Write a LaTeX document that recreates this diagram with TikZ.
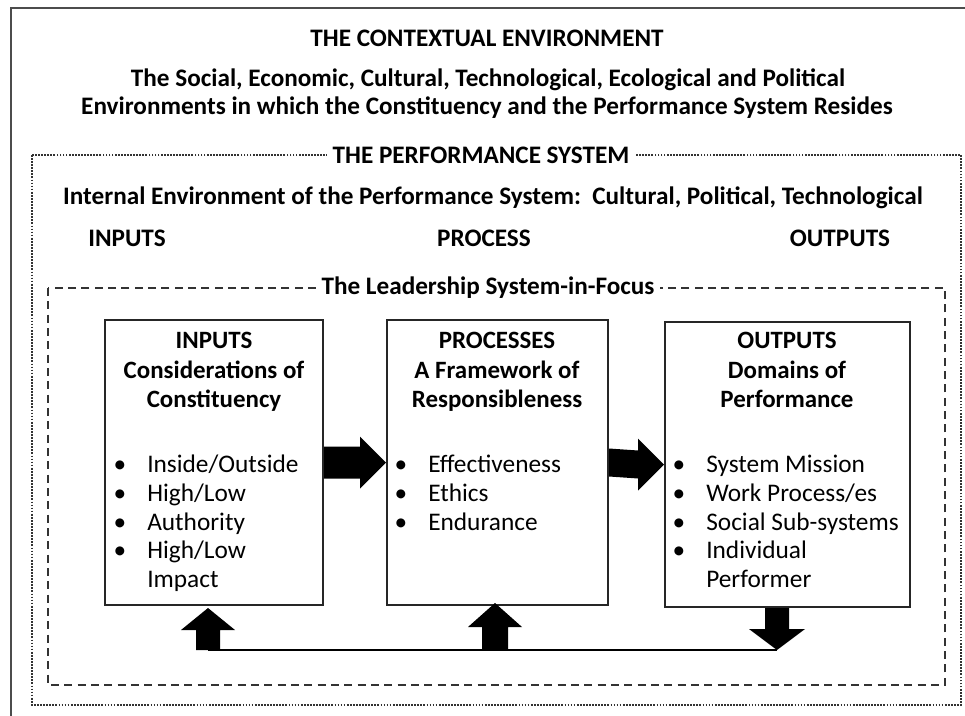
\documentclass[tikz,border=0pt]{standalone}
\usepackage{fontspec}
\setmainfont{Carlito}
\usetikzlibrary{calc}
\begin{document}
\begin{tikzpicture}[x=0.75pt,y=-0.75pt,
  toptext/.style={font=\fontsize{18.9}{22}\selectfont\bfseries, inner sep=0pt},
  framelabel/.style={font=\fontsize{18.9}{22}\selectfont\bfseries, fill=white, inner sep=4pt},
  boxhead/.style={font=\fontsize{18.7}{22}\selectfont\bfseries, inner sep=0pt, anchor=base},
  boxitem/.style={font=\fontsize{19}{22}\selectfont, inner sep=0pt, anchor=base west},
  bul/.style={font=\fontsize{19}{22}\selectfont, inner sep=0pt, anchor=base},
  sysbox/.style={draw=black!85, line width=1.5pt, fill=white},
  blockarrow/.style={fill=black},
]
\useasboundingbox (0,0) rectangle (965,715);
% outer contextual environment frame
\draw[draw=black!70, line width=1.6pt] (11,730) -- (11,8) -- (980,8) -- (980,730);
\node[toptext] (t1) at (487,38) {THE CONTEXTUAL ENVIRONMENT};
\node[toptext] (t2) at (488,80) {The Social, Economic, Cultural, Technological, Ecological and Political};
\node[toptext] (t3) at (487,108) {Environments in which the Constituency and the Performance System Resides};

% performance system frame
\draw[densely dotted, line width=1.3pt, black!80] (32,155) rectangle (961,705);
\node[framelabel] (ps) at (481,155) {THE PERFORMANCE SYSTEM};
\node[toptext] (ie) at (493,198) {Internal Environment of the Performance System:\ \ Cultural, Political, Technological};
\node[toptext] (li) at (127,238) {INPUTS};
\node[toptext] (lp) at (484,238) {PROCESS};
\node[toptext] (lo) at (840,238) {OUTPUTS};

% leadership system frame
\draw[dash pattern=on 6pt off 4pt, line width=1.3pt, black!80] (48,288) rectangle (945,685);
\node[framelabel] (ls) at (488,288) {The Leadership System-in-Focus};

% three boxes
\node[sysbox, minimum width=218*0.75pt, minimum height=285*0.75pt, inner sep=0pt] (inB) at (214,462.5) {};
\node[sysbox, minimum width=221*0.75pt, minimum height=285*0.75pt, inner sep=0pt] (prB) at (497.5,462.5) {};
\node[sysbox, minimum width=245*0.75pt, minimum height=285*0.75pt, inner sep=0pt] (outB) at (787.5,464.5) {};

% inputs box text
\node[boxhead] (ih1) at (214,348) {INPUTS};
\node[boxhead] (ih2) at (214,378) {Considerations of};
\node[boxhead] (ih3) at (214,407) {Constituency};
\node[bul] (ib1) at (120,472) {•};
\node[boxitem] (ii1) at (147,472) {Inside/Outside};
\node[bul] (ib2) at (120,501) {•};
\node[boxitem] (ii2) at (147,501) {High/Low};
\node[bul] (ib3) at (120,530) {•};
\node[boxitem] (ii3) at (147,530) {Authority};
\node[bul] (ib4) at (120,558) {•};
\node[boxitem] (ii4) at (147,558) {High/Low};
\node[boxitem] (ii5) at (147,587) {Impact};

% processes box text
\node[boxhead] (ph1) at (497,348) {PROCESSES};
\node[boxhead] (ph2) at (497,378) {A Framework of};
\node[boxhead] (ph3) at (497,407) {Responsibleness};
\node[bul] (pb1) at (401,472) {•};
\node[boxitem] (pi1) at (428,472) {Effectiveness};
\node[bul] (pb2) at (401,501) {•};
\node[boxitem] (pi2) at (428,501) {Ethics};
\node[bul] (pb3) at (401,530) {•};
\node[boxitem] (pi3) at (428,530) {Endurance};

% outputs box text
\node[boxhead] (oh1) at (787,348) {OUTPUTS};
\node[boxhead] (oh2) at (787,378) {Domains of};
\node[boxhead] (oh3) at (787,407) {Performance};
\node[bul] (ob1) at (679,472) {•};
\node[boxitem] (oi1) at (706,472) {System Mission};
\node[bul] (ob2) at (679,501) {•};
\node[boxitem] (oi2) at (706,501) {Work Process/es};
\node[bul] (ob3) at (679,530) {•};
\node[boxitem] (oi3) at (706,530) {Social Sub-systems};
\node[bul] (ob4) at (679,558) {•};
\node[boxitem] (oi4) at (706,558) {Individual};
\node[boxitem] (oi5) at (706,587) {Performer};

% block arrows between boxes
\fill[blockarrow] ($(inB.east)+(0,-16)$) -- ($(prB.west)+(-26,-16)$) -- ($(prB.west)+(-26,-26)$)
  -- (prB.west) -- ($(prB.west)+(-26,26)$) -- ($(prB.west)+(-26,16)$) -- ($(inB.east)+(0,16)$) -- cycle;
\fill[blockarrow] ($(prB.east)+(0,-14)$) -- ($(outB.west)+(-26,-14)$) -- ($(outB.west)+(-26,-26)$)
  -- ($(outB.west)+(0,0)$) -- ($(outB.west)+(-26,26)$) -- ($(outB.west)+(-26,14)$) -- ($(prB.east)+(0,14)$) -- cycle;

% feedback loop
\coordinate (f1) at (208,650);
\coordinate (f2) at (495,650);
\coordinate (f3) at (777,650);
\draw[line width=1.6pt] (f1) -- (f3);
% up arrow to inputs
\fill[blockarrow] ($(f1)+(-12,0)$) -- ($(f1)+(-12,-20)$) -- ($(f1)+(-27,-20)$) -- ($(inB.south -| f1)+(0,2)$)
  -- ($(f1)+(27,-20)$) -- ($(f1)+(12,-20)$) -- ($(f1)+(12,0)$) -- cycle;
% up arrow to processes
\fill[blockarrow] ($(f2)+(-13,0)$) -- ($(f2)+(-13,-23)$) -- ($(f2)+(-27,-23)$) -- ($(prB.south -| f2)+(0,-3)$)
  -- ($(f2)+(27,-23)$) -- ($(f2)+(13,-23)$) -- ($(f2)+(13,0)$) -- cycle;
% down arrow from outputs
\fill[blockarrow] ($(outB.south -| f3)+(-12,0)$) -- ($(f3)+(-12,-21)$) -- ($(f3)+(-28,-21)$) -- (f3)
  -- ($(f3)+(28,-21)$) -- ($(f3)+(12,-21)$) -- ($(outB.south -| f3)+(12,0)$) -- cycle;
\end{tikzpicture}
\end{document}
